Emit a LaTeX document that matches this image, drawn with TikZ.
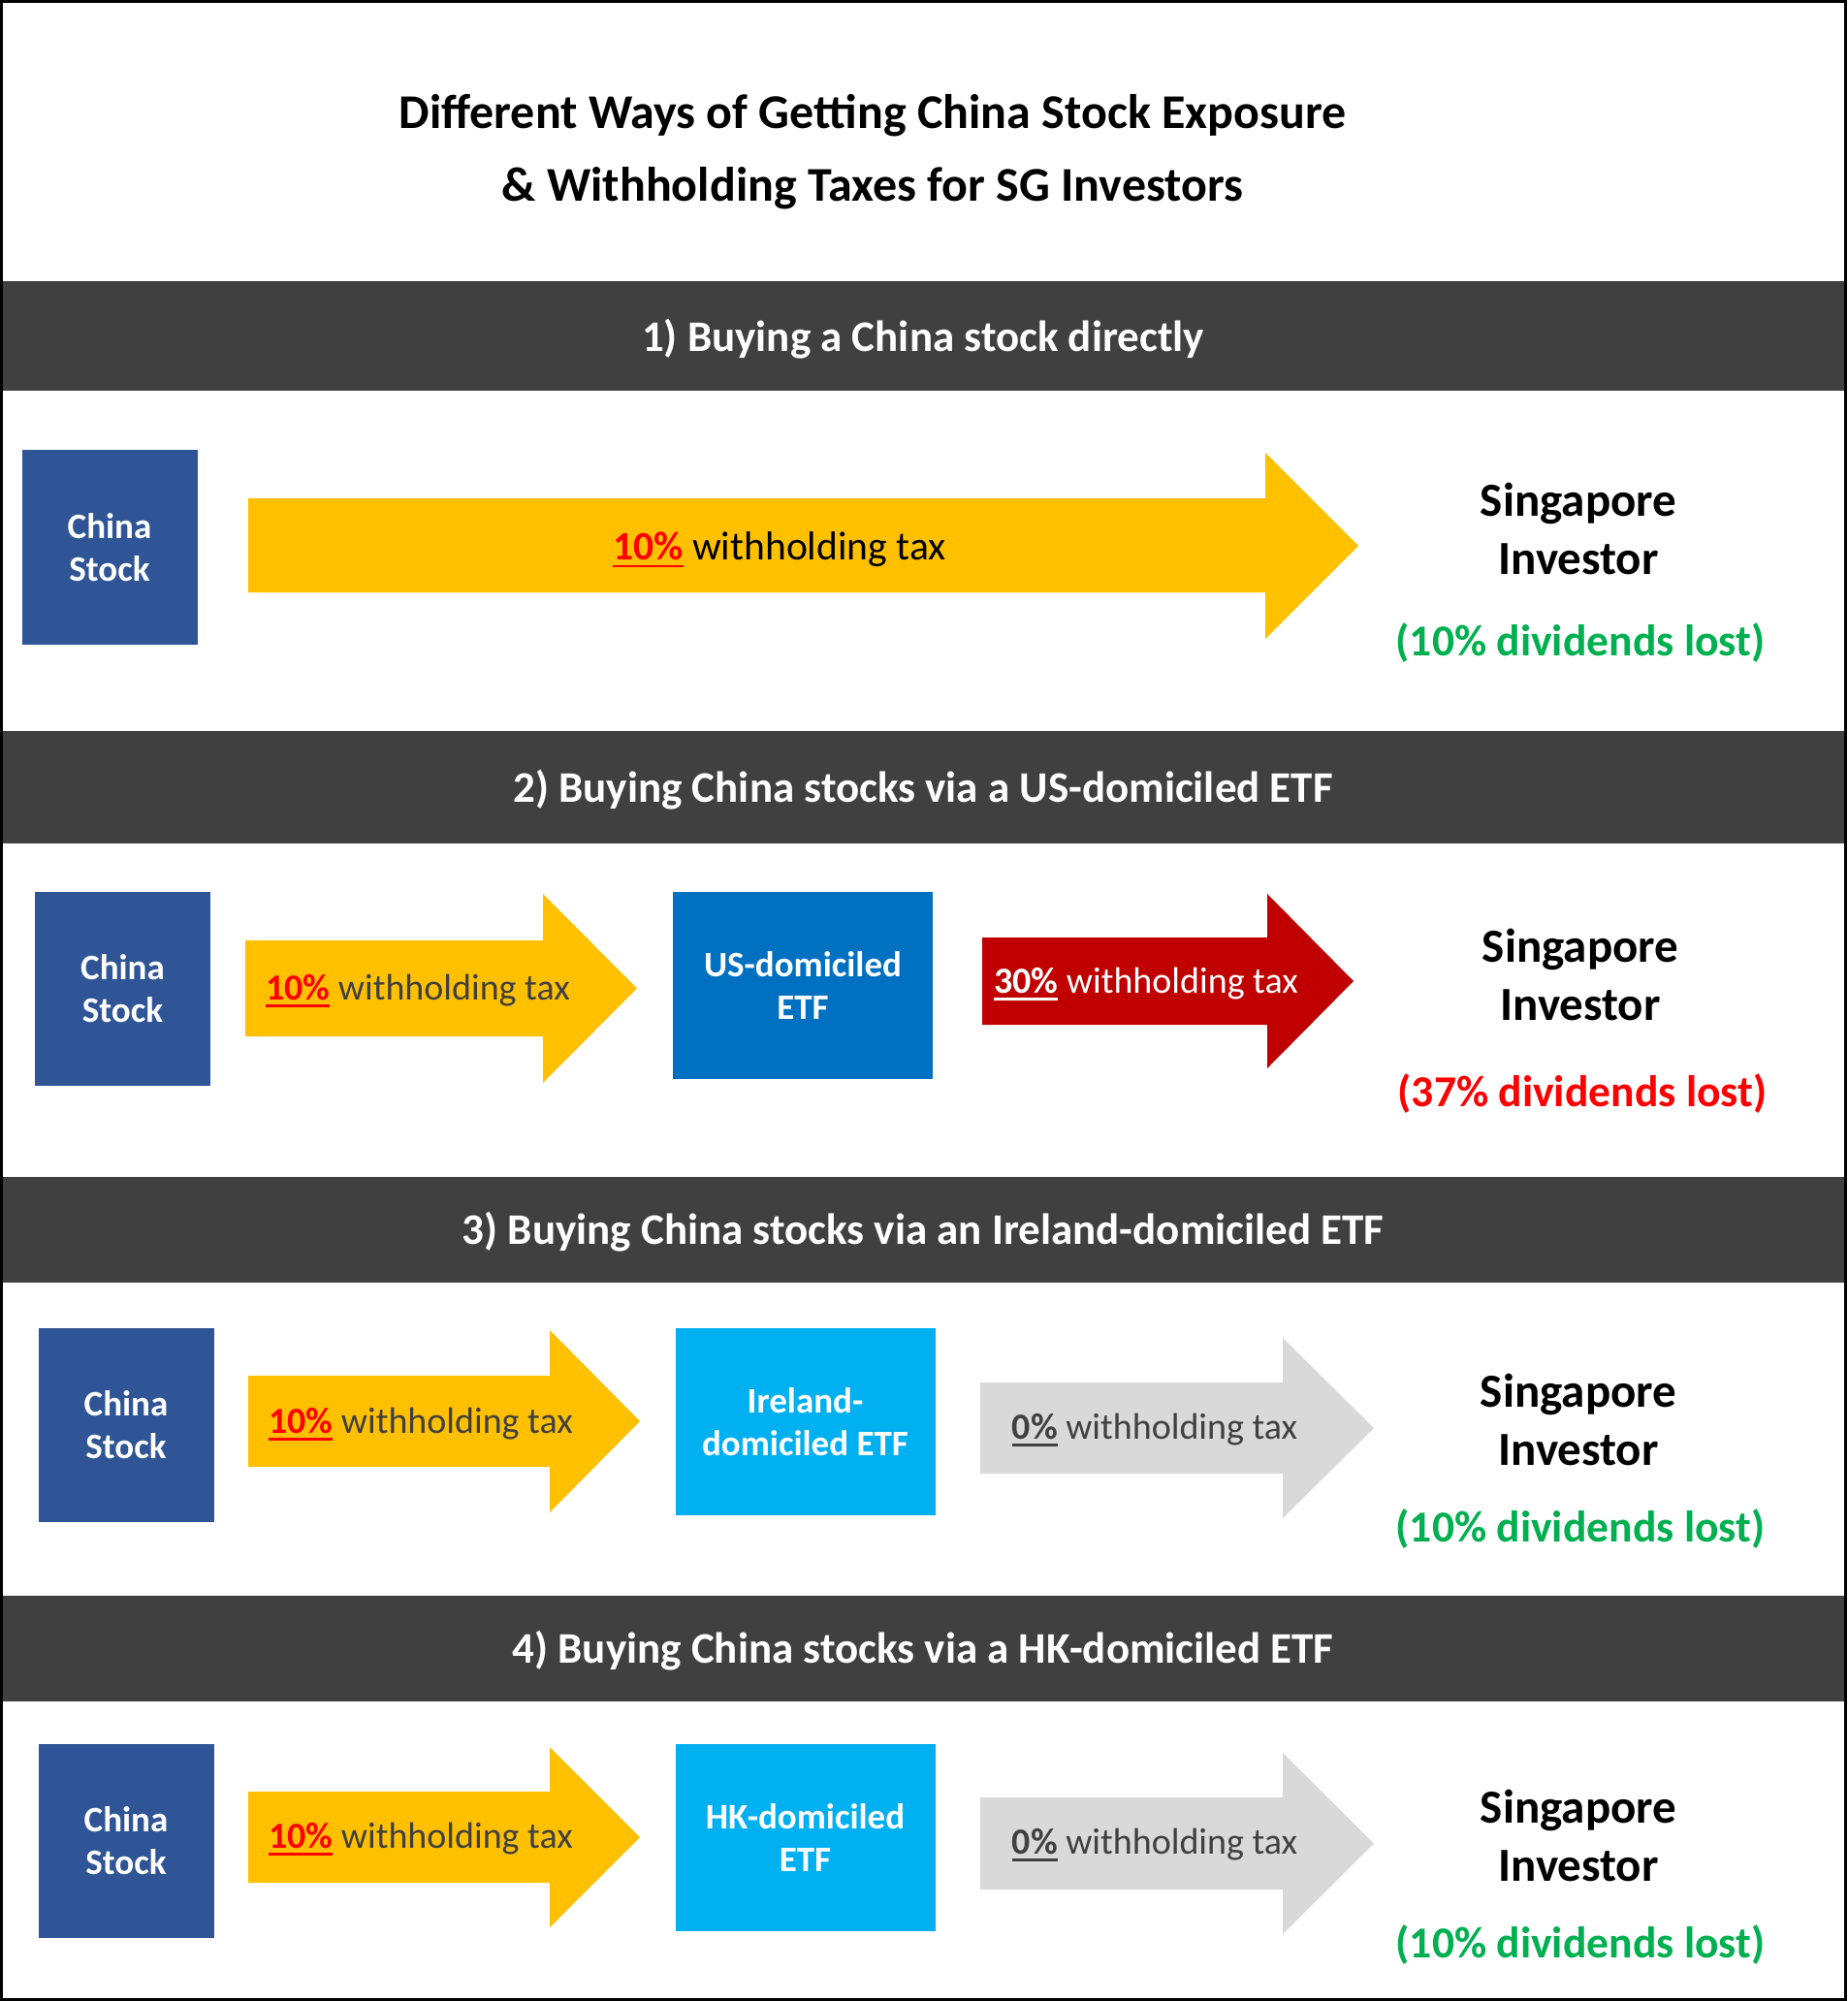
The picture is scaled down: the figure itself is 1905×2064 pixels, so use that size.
\documentclass[tikz,border=0pt]{standalone}
\usepackage{fontspec}
\setmainfont{Carlito}
\usepackage{tikz}
\usetikzlibrary{positioning}
\definecolor{bandgrey}{HTML}{404040}
\definecolor{stockblue}{HTML}{2F5597}
\definecolor{usblue}{HTML}{0070C0}
\definecolor{etfblue}{HTML}{00B0F0}
\definecolor{taxyellow}{HTML}{FFC000}
\definecolor{taxred}{HTML}{C00000}
\definecolor{taxgrey}{HTML}{D9D9D9}
\definecolor{lostgreen}{HTML}{00B050}
\definecolor{lostred}{HTML}{FF0000}
\newsavebox\ratebox
\newcommand{\rate}[1]{\sbox\ratebox{\bfseries #1}\rlap{\rule[-3.9pt]{\wd\ratebox}{1.35pt}}\usebox\ratebox}
\tikzset{
    band/.style={fill=bandgrey},
    bandtext/.style={text=white, font=\fontsize{22.5}{27}\selectfont\bfseries},
    titletext/.style={font=\fontsize{25}{37.5}\selectfont\bfseries, align=center},
    stockbox/.style={fill=stockblue, text=white, align=center, inner sep=0pt,
        font=\fontsize{18.5}{22}\selectfont\bfseries,
        minimum width=90.5pt, minimum height=100pt},
    etfbox/.style={fill=#1, text=white, align=center, inner sep=0pt,
        font=\fontsize{18.5}{22}\selectfont\bfseries,
        minimum width=134pt, minimum height=96.5pt},
    taxtext/.style={font=\fontsize{19}{23}\selectfont, inner sep=0pt},
    investor/.style={font=\fontsize{24.5}{30}\selectfont\bfseries, align=center, inner sep=0pt},
    lost/.style={font=\fontsize{22.8}{27}\selectfont\bfseries, anchor=base, inner sep=0pt},
}
\begin{document}
\begin{tikzpicture}[x=0.5pt, y=-0.5pt]
\useasboundingbox (0,0) rectangle (1905,2064);
\node[titletext] (title) at (900,157) {Different Ways of Getting China Stock Exposure\\\& Withholding Taxes for SG Investors};
% section bands
\fill[band] (0,290) rectangle (1905,403);
\fill[band] (0,754) rectangle (1905,870);
\fill[band] (0,1214) rectangle (1905,1323);
\fill[band] (0,1646) rectangle (1905,1755);
\node[bandtext] (band1) at (952,350) {1) Buying a China stock directly};
\node[bandtext] (band2) at (952,815) {2) Buying China stocks via a US-domiciled ETF};
\node[bandtext] (band3) at (952,1271) {3) Buying China stocks via an Ireland-domiciled ETF};
\node[bandtext] (band4) at (952,1703) {4) Buying China stocks via a HK-domiciled ETF};
% 1) direct
\node[stockbox] (stock1) at (113,564.5) {China\\Stock};
\fill[taxyellow] (256,514) -- (1305,514) -- (1305,467) -- (1401,563) -- (1305,659) -- (1305,611) -- (256,611) -- cycle;
\node[taxtext, font=\fontsize{20.8}{25}\selectfont] (tax1) at (804,567) {\textcolor{lostred}{\rate{10\%}} withholding tax};
\node[investor] (sg1) at (1628,545) {Singapore\\Investor};
\node[lost, text=lostgreen] (lost1) at (1630,676) {(10\% dividends lost)};
% 2) US ETF
\node[stockbox] (stock2) at (126.5,1020) {China\\Stock};
\fill[taxyellow] (253,970) -- (560,970) -- (560,922) -- (657,1019.5) -- (560,1117) -- (560,1069) -- (253,1069) -- cycle;
\node[taxtext, text=bandgrey] (tax2a) at (431,1022) {\textcolor{lostred}{\rate{10\%}} withholding tax};
\node[etfbox=usblue] (etf2) at (828,1016.5) {US-domiciled\\ETF};
\fill[taxred] (1013,967) -- (1307,967) -- (1307,922) -- (1396,1012) -- (1307,1102) -- (1307,1057) -- (1013,1057) -- cycle;
\node[taxtext, text=white] (tax2b) at (1182,1015) {\rate{30\%} withholding tax};
\node[investor] (sg2) at (1630,1005.5) {Singapore\\Investor};
\node[lost, text=lostred] (lost2) at (1632,1141) {(37\% dividends lost)};
% 3) Ireland ETF
\node[stockbox] (stock3) at (130,1469.5) {China\\Stock};
\fill[taxyellow] (256,1419) -- (567,1419) -- (567,1372) -- (660,1466) -- (567,1560) -- (567,1513) -- (256,1513) -- cycle;
\node[taxtext, text=bandgrey] (tax3a) at (434,1469) {\textcolor{lostred}{\rate{10\%}} withholding tax};
\node[etfbox=etfblue] (etf3) at (830.5,1466.5) {Ireland-\\domiciled ETF};
\fill[taxgrey] (1011,1426) -- (1323,1426) -- (1323,1380) -- (1417,1473) -- (1323,1566) -- (1323,1520) -- (1011,1520) -- cycle;
\node[taxtext, text=bandgrey] (tax3b) at (1191,1475) {\rate{0\%} withholding tax};
\node[investor] (sg3) at (1628,1464) {Singapore\\Investor};
\node[lost, text=lostgreen] (lost3) at (1630,1590) {(10\% dividends lost)};
% 4) HK ETF
\node[stockbox] (stock4) at (130,1898.5) {China\\Stock};
\fill[taxyellow] (256,1848) -- (567,1848) -- (567,1802) -- (660,1895) -- (567,1988) -- (567,1942) -- (256,1942) -- cycle;
\node[taxtext, text=bandgrey] (tax4a) at (434,1897) {\textcolor{lostred}{\rate{10\%}} withholding tax};
\node[etfbox=etfblue] (etf4) at (830.5,1895) {HK-domiciled\\ETF};
\fill[taxgrey] (1011,1854) -- (1323,1854) -- (1323,1808) -- (1417,1901.5) -- (1323,1995) -- (1323,1949) -- (1011,1949) -- cycle;
\node[taxtext, text=bandgrey] (tax4b) at (1191,1903) {\rate{0\%} withholding tax};
\node[investor] (sg4) at (1628,1893) {Singapore\\Investor};
\node[lost, text=lostgreen] (lost4) at (1630,2019) {(10\% dividends lost)};
% frame
\draw[line width=1.7pt] (1.7,1.7) rectangle (1903.3,2062.3);
\end{tikzpicture}
\end{document}
